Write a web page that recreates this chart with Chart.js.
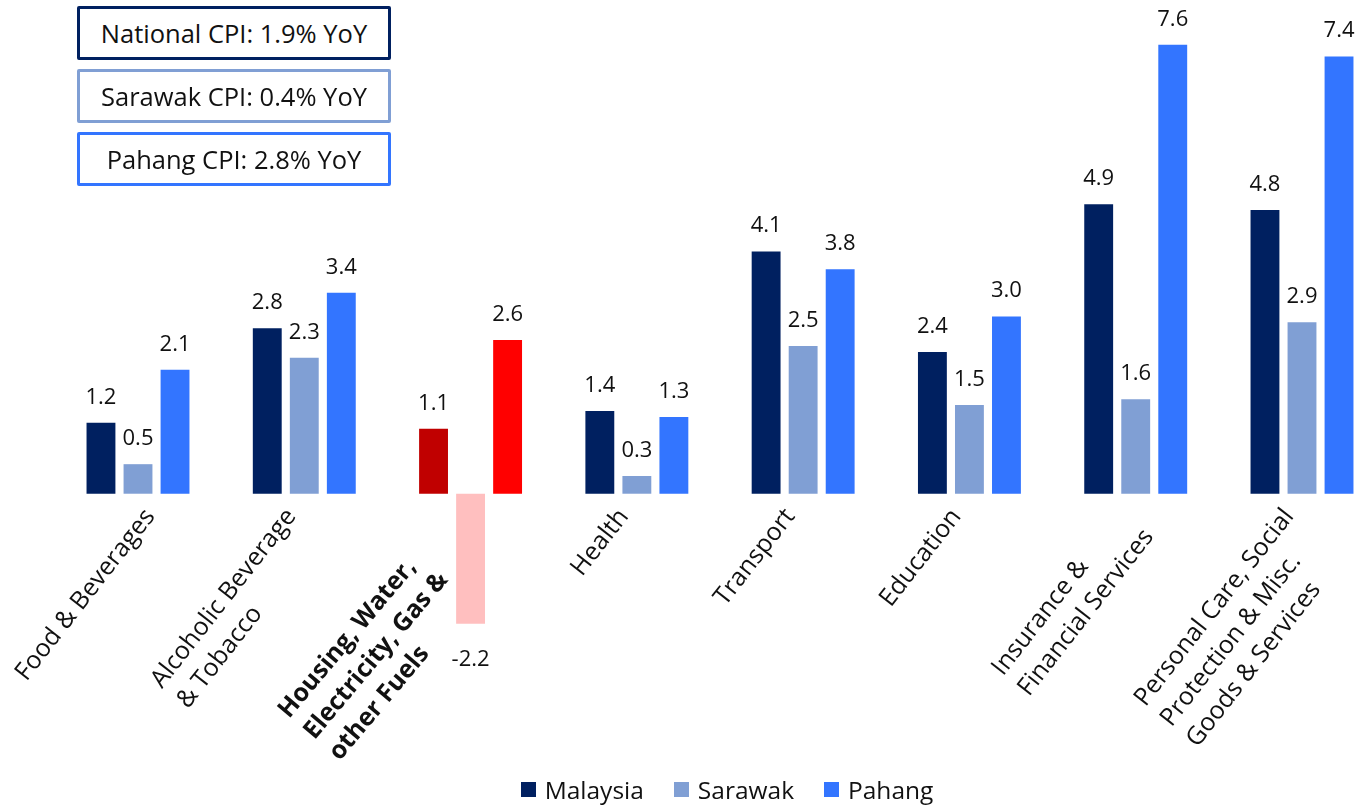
<!DOCTYPE html>
<html lang="en">
<head>
    <meta charset="UTF-8">
    <title>CPI by component</title>
    <script src="https://cdn.jsdelivr.net/npm/chart.js"></script>
    <style>
        body {
            margin: 0;
            background-color: #ffffff;
            font-family: 'Open Sans', sans-serif;
        }

        .wrap {
            position: relative;
            width: 1360px;
            height: 807px;
        }

        .cpi-box {
            position: absolute;
            left: 77px;
            width: 308px;
            height: 48px;
            border: 3px solid;
            border-radius: 2px;
            background: #ffffff;
            font-size: 25.5px;
            line-height: 48px;
            text-align: center;
            color: #111111;
        }

        .legend {
            position: absolute;
            top: 773px;
            left: 145px;
            width: 1164px;
            display: flex;
            justify-content: center;
            font-size: 24.5px;
            color: #111111;
        }

        .legend span {
            display: flex;
            align-items: center;
            margin: 0 15px;
        }

        .legend i {
            display: inline-block;
            width: 15px;
            height: 15px;
            margin-right: 9px;
        }
    </style>
</head>
<body>
<div class="wrap">
    <canvas id="cpiChart"></canvas>
    <div class="cpi-box" style="top:6px; border-color:#002060">National CPI: 1.9% YoY</div>
    <div class="cpi-box" style="top:69px; border-color:#809fd4">Sarawak CPI: 0.4% YoY</div>
    <div class="cpi-box" style="top:132px; border-color:#3375ff">Pahang CPI: 2.8% YoY</div>
    <div class="legend" id="legend"></div>
</div>

<script>
    const categories = [
        'Food & Beverages',
        ['Alcoholic Beverage', '& Tobacco'],
        ['Housing, Water,', 'Electricity, Gas &', 'other Fuels'],
        'Health',
        'Transport',
        'Education',
        ['Insurance &', 'Financial Services'],
        ['Personal Care, Social', 'Protection & Misc.', 'Goods & Services']
    ];
    const malaysia = [1.2, 2.8, 1.1, 1.4, 4.1, 2.4, 4.9, 4.8];
    const sarawak = [0.5, 2.3, -2.2, 0.3, 2.5, 1.5, 1.6, 2.9];
    const pahang = [2.1, 3.4, 2.6, 1.3, 3.8, 3.0, 7.6, 7.4];

    // the housing group is drawn in reds and its label in bold
    const HIGHLIGHT = 2;

    function colours(base, hi) {
        return categories.map((c, i) => i === HIGHLIGHT ? hi : base);
    }

    const valueLabels = {
        id: 'valueLabels',
        afterDatasetsDraw(chart) {
            const ctx = chart.ctx;
            ctx.save();
            ctx.font = '22px "Open Sans"';
            ctx.fillStyle = '#111111';
            ctx.textAlign = 'center';
            ctx.textBaseline = 'alphabetic';
            chart.data.datasets.forEach((ds, di) => {
                chart.getDatasetMeta(di).data.forEach((bar, i) => {
                    const v = ds.data[i];
                    const y = v >= 0 ? bar.y - 19 : bar.y + 42;
                    ctx.fillText(v.toFixed(1), bar.x, y);
                });
            });
            ctx.restore();
        }
    };

    // slanted category labels under the zero line
    const slantedTicks = {
        id: 'slantedTicks',
        afterDraw(chart) {
            const ctx = chart.ctx;
            const xs = chart.scales.x;
            const lineH = 33;
            ctx.save();
            ctx.fillStyle = '#111111';
            ctx.textAlign = 'left';
            ctx.textBaseline = 'middle';
            categories.forEach((lab, i) => {
                const lines = Array.isArray(lab) ? lab : [lab];
                const bold = i === HIGHLIGHT;
                const ang = (bold ? 50 : 52) * Math.PI / 180;
                const cos = Math.cos(ang), sin = Math.sin(ang);
                ctx.font = (bold ? 'bold ' : '') + '25px "Open Sans"';
                const w = Math.max(...lines.map(l => ctx.measureText(l).width));
                // top-right corner of the text block
                let ox = xs.getPixelForValue(i) - 26;
                let oy = 502;
                if (bold) {
                    // this one sits lower-left, clear of the negative bar
                    ox = 271 + w * cos;
                    oy = 704 - w * sin;
                }
                const leftmost = ox - w * cos;
                if (leftmost < 8) ox += 8 - leftmost;
                ctx.save();
                ctx.translate(ox, oy);
                ctx.rotate(-ang);
                lines.forEach((l, j) => ctx.fillText(l, -w, lineH * (j + 0.5)));
                ctx.restore();
            });
            ctx.restore();
        }
    };

    function draw() {
        Chart.defaults.font.family = "'Open Sans'";
        const ctx = document.getElementById('cpiChart').getContext('2d');
        const chart = new Chart(ctx, {
            type: 'bar',
            data: {
                labels: categories,
                datasets: [
                    {
                        label: 'Malaysia',
                        data: malaysia,
                        backgroundColor: colours('#002060', '#c00000'),
                        clip: false
                    },
                    {
                        label: 'Sarawak',
                        data: sarawak,
                        backgroundColor: colours('#809fd4', '#ffbfbf'),
                        clip: false
                    },
                    {
                        label: 'Pahang',
                        data: pahang,
                        backgroundColor: colours('#3375ff', '#ff0000'),
                        clip: false
                    }
                ]
            },
            options: {
                responsive: true,
                maintainAspectRatio: false,
                animation: false,
                layout: {
                    padding: { top: 21, bottom: 136, left: 138, right: 58 }
                },
                categoryPercentage: 0.668,
                barPercentage: 0.78,
                scales: {
                    x: {
                        display: false,
                        offset: false
                    },
                    y: {
                        display: false,
                        min: -3,
                        max: 8
                    }
                },
                plugins: {
                    legend: { display: false },
                    tooltip: { enabled: false }
                }
            },
            plugins: [valueLabels, slantedTicks]
        });

        const legend = document.getElementById('legend');
        chart.data.datasets.forEach(ds => {
            const item = document.createElement('span');
            item.innerHTML = '<i style="background:' + ds.backgroundColor[0] + '"></i>' + ds.label;
            legend.appendChild(item);
        });
    }

    document.fonts.load('25px "Open Sans"').then(() => document.fonts.load('bold 25px "Open Sans"')).then(draw, draw);
</script>
</body>
</html>
